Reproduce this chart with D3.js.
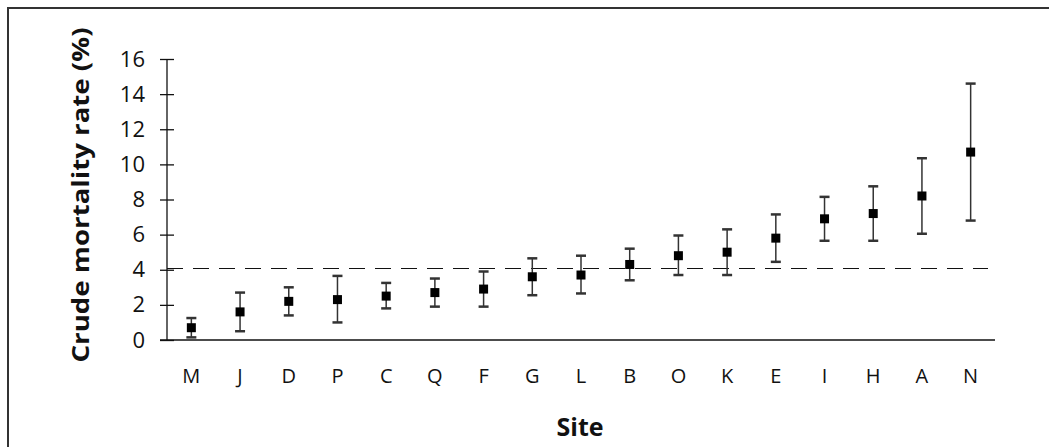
<!DOCTYPE html>
<html>
<head>
<meta charset="utf-8">
<script src="https://cdn.jsdelivr.net/npm/d3@7.9.0/dist/d3.min.js"></script>
<style>
  body { margin: 0; background: #fff; }
  svg { display: block; font-family: "Open Sans", sans-serif; }
</style>
</head>
<body>
<div id="chart"></div>
<script>
const sites = ['M', 'J', 'D', 'P', 'C', 'Q', 'F', 'G', 'L', 'B', 'O', 'K', 'E', 'I', 'H', 'A', 'N'];
const rates = [0.7, 1.6, 2.2, 2.3, 2.5, 2.7, 2.9, 3.6, 3.7, 4.3, 4.8, 5.0, 5.8, 6.9, 7.2, 8.2, 10.7];
const lower = [0.15, 0.5, 1.4, 1.0, 1.8, 1.9, 1.9, 2.55, 2.65, 3.4, 3.7, 3.7, 4.45, 5.65, 5.65, 6.05, 6.8];
const upper = [1.25, 2.7, 3.0, 3.65, 3.25, 3.5, 3.9, 4.65, 4.8, 5.2, 5.95, 6.3, 7.15, 8.15, 8.75, 10.35, 14.6];
const yTicks = [0, 2, 4, 6, 8, 10, 12, 14, 16];
const reference = 4.07;

const data = sites.map((s, i) => ({ site: s, rate: rates[i], lo: lower[i], hi: upper[i] }));

const width = 1049;
const height = 447;
const plot = { left: 167, right: 995, top: 59, bottom: 340 };

const svg = d3.select('#chart')
  .append('svg')
  .attr('width', width)
  .attr('height', height);

// frame (top and left only, the rest is cropped)
svg.append('path')
  .attr('d', `M8,${height} V8 H${width}`)
  .attr('fill', 'none')
  .attr('stroke', '#333')
  .attr('stroke-width', 2);

const x = d3.scaleBand().domain(sites).range([plot.left, plot.right]);
const y = d3.scaleLinear().domain([0, 16]).range([plot.bottom, plot.top]);

// y axis
const yAxis = svg.append('g')
  .attr('transform', `translate(${plot.left},0)`)
  .call(d3.axisLeft(y).tickValues(yTicks).tickSize(7).tickPadding(15));
yAxis.select('.domain')
  .attr('d', `M0,${plot.bottom}V${plot.top}`)
  .attr('stroke', '#111').attr('stroke-width', 1.3);
yAxis.selectAll('.tick line').attr('x1', -7).attr('x2', 7).attr('stroke', '#111').attr('stroke-width', 1.3);
yAxis.selectAll('.tick text')
  .attr('font-size', 22)
  .attr('font-family', '"Open Sans", sans-serif')
  .attr('fill', '#111');

// x axis
const xAxis = svg.append('g')
  .attr('transform', `translate(0,${plot.bottom})`)
  .call(d3.axisBottom(x).tickSize(0).tickPadding(29));
xAxis.select('.domain')
  .attr('d', `M${plot.left - 7},0H${plot.right}`)
  .attr('stroke', '#111').attr('stroke-width', 1.3);
xAxis.selectAll('.tick text')
  .attr('font-size', 20)
  .attr('font-family', '"Open Sans", sans-serif')
  .attr('fill', '#111');

// reference line
svg.append('line')
  .attr('x1', plot.left).attr('x2', 988)
  .attr('y1', y(reference)).attr('y2', y(reference))
  .attr('stroke', '#111')
  .attr('stroke-width', 1.2)
  .attr('stroke-dasharray', '16,10');

// error bars
const bars = svg.append('g').selectAll('g')
  .data(data)
  .join('g')
  .attr('transform', d => `translate(${x(d.site) + x.bandwidth() / 2},0)`);

bars.append('line')
  .attr('y1', d => y(d.lo)).attr('y2', d => y(d.hi))
  .attr('stroke', '#333').attr('stroke-width', 1.5);

bars.selectAll('.cap')
  .data(d => [d.lo, d.hi])
  .join('line')
  .attr('class', 'cap')
  .attr('x1', -5).attr('x2', 5)
  .attr('y1', v => y(v)).attr('y2', v => y(v))
  .attr('stroke', '#333').attr('stroke-width', 2.5);

bars.append('rect')
  .attr('x', -4.5).attr('width', 9)
  .attr('y', d => y(d.rate) - 4.5).attr('height', 9)
  .attr('fill', '#000');

// titles
svg.append('text')
  .attr('transform', `translate(89,195) rotate(-90)`)
  .attr('text-anchor', 'middle')
  .attr('font-size', 24)
  .attr('font-weight', 'bold')
  .attr('fill', '#111')
  .attr('textLength', 335)
  .attr('lengthAdjust', 'spacingAndGlyphs')
  .text('Crude mortality rate (%)');

svg.append('text')
  .attr('x', 580).attr('y', 436)
  .attr('text-anchor', 'middle')
  .attr('font-size', 25)
  .attr('font-weight', 'bold')
  .attr('fill', '#111')
  .text('Site');
</script>
</body>
</html>
